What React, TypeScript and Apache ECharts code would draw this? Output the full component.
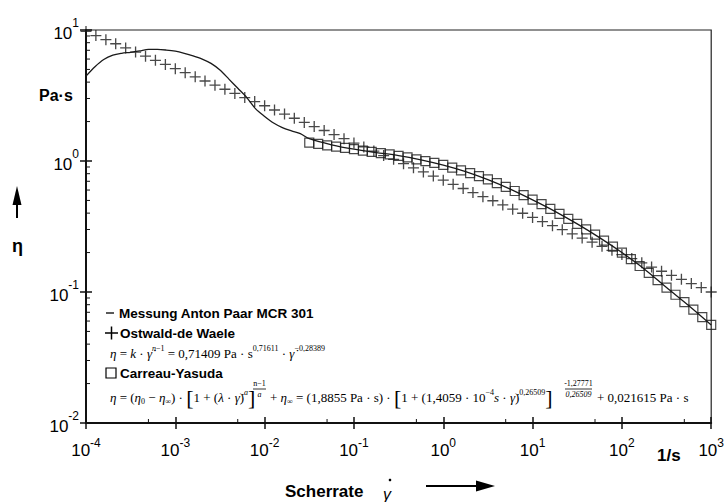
import React, { useEffect, useRef } from 'react';
import * as echarts from 'echarts';

// Measured curve (Messung Anton Paar MCR 301)
const messShear = [1e-4, 1.26e-4, 1.58e-4, 2e-4, 2.51e-4, 3.16e-4, 3.98e-4, 5.01e-4, 6.31e-4, 7.94e-4,
  1e-3, 1.26e-3, 1.58e-3, 2e-3, 2.51e-3, 3.16e-3, 3.98e-3, 5.01e-3, 6.31e-3, 7.94e-3,
  0.01, 0.0126, 0.0158, 0.02, 0.0251, 0.0316, 0.0562, 0.1, 0.178, 0.316, 0.562,
  1, 1.78, 3.16, 5.62, 10, 17.8, 31.6, 56.2, 100, 178, 316, 562, 1000];
const messVisc = [4.45, 5.25, 5.96, 6.43, 6.64, 6.76, 6.92, 7.11, 7.11, 7.03,
  6.89, 6.64, 6.35, 6.0, 5.56, 4.95, 4.22, 3.59, 3.05, 2.50,
  2.19, 1.95, 1.80, 1.70, 1.62, 1.48, 1.33, 1.23, 1.16, 1.10, 1.02,
  0.93, 0.83, 0.72, 0.61, 0.505, 0.413, 0.331, 0.26, 0.2, 0.15, 0.108, 0.0785, 0.056];

// Ostwald-de Waele markers
const owShear = [1e-4, 1.29e-4, 1.67e-4, 2.15e-4, 2.78e-4, 3.59e-4, 4.64e-4, 5.99e-4, 7.74e-4,
  1e-3, 1.29e-3, 1.67e-3, 2.15e-3, 2.78e-3, 3.59e-3, 4.64e-3, 5.99e-3, 7.74e-3,
  0.01, 0.0129, 0.0167, 0.0215, 0.0278, 0.0359, 0.0464, 0.0599, 0.0774,
  0.1, 0.129, 0.167, 0.215, 0.278, 0.359, 0.464, 0.599, 0.774,
  1, 1.29, 1.67, 2.15, 2.78, 3.59, 4.64, 5.99, 7.74,
  10, 12.9, 16.7, 21.5, 27.8, 35.9, 46.4, 59.9, 77.4,
  100, 129, 167, 215, 278, 359, 464, 599, 774, 1000];
const owVisc = [9.76, 9.07, 8.44, 7.85, 7.30, 6.78, 6.31, 5.87, 5.46,
  5.07, 4.72, 4.39, 4.08, 3.79, 3.53, 3.28, 3.05, 2.84,
  2.64, 2.45, 2.28, 2.12, 1.97, 1.83, 1.71, 1.59, 1.48,
  1.37, 1.28, 1.19, 1.10, 1.03, 0.954, 0.887, 0.825, 0.767,
  0.714, 0.664, 0.617, 0.574, 0.534, 0.497, 0.462, 0.429, 0.399,
  0.371, 0.345, 0.321, 0.299, 0.278, 0.258, 0.240, 0.223, 0.208,
  0.193, 0.180, 0.167, 0.155, 0.144, 0.134, 0.125, 0.116, 0.108, 0.100];

// Carreau-Yasuda markers
const cyShear = [0.0316, 0.0398, 0.0501, 0.0631, 0.0794,
  0.1, 0.126, 0.158, 0.2, 0.251, 0.316, 0.398, 0.501, 0.631, 0.794,
  1, 1.26, 1.58, 2, 2.51, 3.16, 3.98, 5.01, 6.31, 7.94,
  10, 12.6, 15.8, 20, 25.1, 31.6, 39.8, 50.1, 63.1, 79.4,
  100, 126, 158, 200, 251, 316, 398, 501, 631, 794, 1000];
const cyVisc = [1.380, 1.349, 1.318, 1.288, 1.259,
  1.230, 1.202, 1.175, 1.148, 1.122, 1.096, 1.064, 1.030, 0.998, 0.966,
  0.933, 0.891, 0.849, 0.807, 0.766, 0.724, 0.679, 0.634, 0.590, 0.548,
  0.507, 0.468, 0.431, 0.395, 0.362, 0.331, 0.301, 0.274, 0.247, 0.222,
  0.200, 0.178, 0.158, 0.140, 0.123, 0.108, 0.0953, 0.0836, 0.0733, 0.0643, 0.0562];

// Minor tick positions
const yMinorTicks = [0.02, 0.03, 0.04, 0.05, 0.06, 0.07, 0.08, 0.09,
  0.2, 0.3, 0.4, 0.5, 0.6, 0.7, 0.8, 0.9, 2, 3, 4, 5, 6, 7, 8, 9];
const xMinorTicks = [5e-4, 5e-3, 5e-2, 0.5, 5, 50, 500];

const SANS = '"Liberation Sans", Arial, sans-serif';
const SERIF = '"Liberation Serif", "Times New Roman", serif';
const INK = '#111';

const expLabel = (v: number) => {
  const e = Math.round(Math.log10(v));
  return `{b|10}{s|${e}}`;
};

const fRich = {
  n: { fontFamily: SERIF, fontSize: 13, fill: '#000' },
  i: { fontFamily: SERIF, fontSize: 13, fontStyle: 'italic', fill: '#000' },
  p: { fontFamily: SERIF, fontSize: 8, padding: [0, 0, 9, 0], fill: '#000' },
  pi: { fontFamily: SERIF, fontSize: 8, fontStyle: 'italic', padding: [0, 0, 9, 0], fill: '#000' },
  sb: { fontFamily: SERIF, fontSize: 8, padding: [8, 0, 0, 0], fill: '#000' },
  big: { fontFamily: SERIF, fontSize: 22, fill: '#000' },
};

const txt = (x: number, y: number, text: string, font: string, extra: any = {}) => ({
  type: 'text', x, y, silent: true,
  style: { text, font, fill: '#000', verticalAlign: 'middle', align: 'left', ...extra },
});

const frac = (x: number, yc: number, num: string, den: string, w: number) => [
  { type: 'text', x: x + w / 2, y: yc - 6, silent: true, style: { text: num, font: `8px ${SERIF}`, fill: '#000', align: 'center', verticalAlign: 'middle' } },
  { type: 'line', silent: true, shape: { x1: x, y1: yc, x2: x + w, y2: yc }, style: { stroke: '#000', lineWidth: 0.8 } },
  { type: 'text', x: x + w / 2, y: yc + 5, silent: true, style: { text: den, font: `italic 8px ${SERIF}`, fill: '#000', align: 'center', verticalAlign: 'middle' } },
];

export default function App() {
  const ref = useRef<HTMLDivElement>(null);
  useEffect(() => {
    if (!ref.current) return;
    const chart = echarts.init(ref.current, undefined, { renderer: 'svg' });

    const axisCommon = { splitLine: { show: false }, minorTick: { show: false }, minorSplitLine: { show: false } };

    const graphic: any[] = [
      // y-axis title
      txt(39, 95, 'Pa·s', `bold 16px ${SANS}`),
      { type: 'line', silent: true, shape: { x1: 17, y1: 218, x2: 17, y2: 200 }, style: { stroke: '#000', lineWidth: 2 } },
      { type: 'polygon', silent: true, shape: { points: [[17, 186], [12.5, 205], [21.5, 205]] }, style: { fill: '#000' } },
      txt(12, 246, 'η', `bold 18px ${SANS}`),
      // x-axis title
      txt(285, 491, 'Scherrate', `bold 17px ${SANS}`),
      txt(383, 494, 'γ', `italic 16px ${SANS}`),
      { type: 'circle', silent: true, shape: { cx: 390, cy: 480, r: 1.3 }, style: { fill: '#000' } },
      { type: 'line', silent: true, shape: { x1: 426, y1: 486, x2: 480, y2: 486 }, style: { stroke: '#000', lineWidth: 2 } },
      { type: 'polygon', silent: true, shape: { points: [[495, 486], [476, 480.5], [476, 491.5]] }, style: { fill: '#000' } },
      txt(657, 455, '1/s', `bold 17px ${SANS}`),
      // legend
      { type: 'line', silent: true, shape: { x1: 106, y1: 313, x2: 114, y2: 313 }, style: { stroke: '#000', lineWidth: 1.3 } },
      txt(119, 313, 'Messung Anton Paar MCR 301', `bold 13.5px ${SANS}`),
      { type: 'line', silent: true, shape: { x1: 105, y1: 333, x2: 118, y2: 333 }, style: { stroke: '#000', lineWidth: 1.5 } },
      { type: 'line', silent: true, shape: { x1: 111.5, y1: 326.5, x2: 111.5, y2: 339.5 }, style: { stroke: '#000', lineWidth: 1.5 } },
      txt(120, 333, 'Ostwald-de Waele', `bold 13.5px ${SANS}`),
      txt(110, 353, '{i|η} {n|=} {i|k} {n|·} {i|γ̇}{pi|n}{p|−1} {n|= 0,71409 Pa · s}{p|0,71611}{n| · }{i|γ̇}{p|−0,28389}', `13px ${SERIF}`, { rich: fRich }),
      { type: 'rect', silent: true, shape: { x: 106, y: 368, width: 10, height: 10 }, style: { fill: 'none', stroke: '#000', lineWidth: 1.2 } },
      txt(120, 373, 'Carreau-Yasuda', `bold 13.5px ${SANS}`),
      txt(110, 397, '{i|η}{n| = (}{i|η}{sb|0}{n| − }{i|η}{sb|∞}{n|) · }{big|[}{n|1 + (}{i|λ}{n| · }{i|γ̇}{n|)}{pi|a}{big|]}', `13px ${SERIF}`, { rich: fRich }),
      ...frac(253, 389, 'n−1', 'a', 13),
      txt(270, 397, '{n|+ }{i|η}{sb|∞}{n| = (1,8855 Pa · s) · }{big|[}{n|1 + (1,4059 · 10}{p|−4}{i|s}{n| · }{i|γ̇}{n|)}{p|0,26509}{big|]}', `13px ${SERIF}`, { rich: fRich }),
      ...frac(565, 389, '-1,27771', '0,26509', 27),
      txt(597, 397, '{n|+ 0,021615 Pa · s}', `13px ${SERIF}`, { rich: fRich }),
    ];

    const option: any = {
      animation: false,
      backgroundColor: '#fff',
      grid: { left: 86, right: 15, top: 30, bottom: 79, show: true, borderColor: '#222', borderWidth: 1.2, backgroundColor: 'transparent' },
      xAxis: [
        {
          type: 'log', logBase: 10, min: 1e-4, max: 1e3, position: 'bottom', ...axisCommon,
          axisLine: { show: true, lineStyle: { color: INK, width: 2 } },
          axisTick: { show: true, inside: false, length: 6, lineStyle: { color: INK, width: 1.5 } },
          axisLabel: {
            margin: 14, showMinLabel: true, showMaxLabel: true, formatter: expLabel,
            rich: {
              b: { fontFamily: SANS, fontSize: 17, color: '#000' },
              s: { fontFamily: SANS, fontSize: 12, color: '#000', padding: [0, 0, 15, 0] },
            },
          },
        },
        {
          type: 'log', logBase: 10, min: 1e-4, max: 1e3, position: 'bottom', ...axisCommon,
          axisLine: { show: false },
          axisTick: { show: true, inside: true, length: 6, lineStyle: { color: INK, width: 1.5 } },
          axisLabel: { show: false },
        },
      ],
      yAxis: [
        {
          type: 'log', logBase: 10, min: 0.01, max: 10, position: 'left', ...axisCommon,
          axisLine: { show: true, lineStyle: { color: INK, width: 2 } },
          axisTick: { show: true, inside: false, length: 6, lineStyle: { color: INK, width: 1.5 } },
          axisLabel: {
            margin: 7, showMinLabel: true, showMaxLabel: true, formatter: expLabel,
            rich: {
              b: { fontFamily: SANS, fontSize: 17, color: '#000', padding: [6, 0, 0, 0] },
              s: { fontFamily: SANS, fontSize: 12, color: '#000', padding: [0, 0, 15, 0] },
            },
          },
        },
        {
          type: 'log', logBase: 10, min: 0.01, max: 10, position: 'left', ...axisCommon,
          axisLine: { show: false },
          axisTick: { show: true, inside: true, length: 6, lineStyle: { color: INK, width: 1.5 } },
          axisLabel: { show: false },
        },
      ],
      series: [
        {
          type: 'custom', name: 'yminor', xAxisIndex: 0, yAxisIndex: 0, silent: true, clip: false,
          data: yMinorTicks.map((v) => [1e-4, v]),
          renderItem: (_p: any, api: any) => {
            const c = api.coord([api.value(0), api.value(1)]);
            return { type: 'line', shape: { x1: c[0], y1: c[1], x2: c[0] + 4, y2: c[1] }, style: { stroke: INK, lineWidth: 1 } };
          },
        },
        {
          type: 'custom', name: 'xminor', xAxisIndex: 0, yAxisIndex: 0, silent: true, clip: false,
          data: xMinorTicks.map((v) => [v, 0.01]),
          renderItem: (_p: any, api: any) => {
            const c = api.coord([api.value(0), api.value(1)]);
            return { type: 'line', shape: { x1: c[0], y1: c[1], x2: c[0], y2: c[1] - 4 }, style: { stroke: INK, lineWidth: 1 } };
          },
        },
        {
          type: 'line', name: 'Messung Anton Paar MCR 301', xAxisIndex: 0, yAxisIndex: 0,
          data: messShear.map((x, i) => [x, messVisc[i]]),
          showSymbol: false, symbol: 'none', smooth: 0.3,
          lineStyle: { color: '#1a1a1a', width: 1.3 },
        },
        {
          type: 'scatter', name: 'Ostwald-de Waele', xAxisIndex: 0, yAxisIndex: 0,
          data: owShear.map((x, i) => [x, owVisc[i]]),
          symbol: 'path://M0,4.4H10V5.6H0ZM4.4,0H5.6V10H4.4Z', symbolSize: 11,
          itemStyle: { color: '#1a1a1a', borderWidth: 0 },
        },
        {
          type: 'scatter', name: 'Carreau-Yasuda', xAxisIndex: 0, yAxisIndex: 0,
          data: cyShear.map((x, i) => [x, cyVisc[i]]),
          symbol: 'rect', symbolSize: 9,
          itemStyle: { color: 'rgba(0,0,0,0)', borderColor: '#1a1a1a', borderWidth: 1.2 },
        },
      ],
      graphic,
    };
    chart.setOption(option);
    return () => chart.dispose();
  }, []);
  return <div ref={ref} style={{ position: 'fixed', left: 0, top: 0, width: 727, height: 502, background: '#fff' }} />;
}
